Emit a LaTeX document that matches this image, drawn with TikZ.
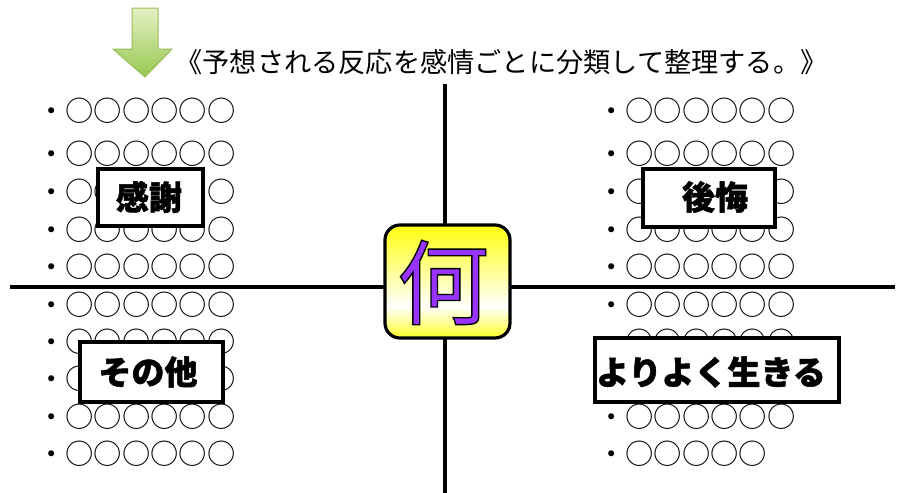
\documentclass[tikz,border=0pt]{standalone}
\usepackage{fontspec}
\newfontfamily\jp{Noto Sans CJK JP}
\newfontfamily\jpheavy{Noto Sans CJK JP}[BoldFeatures={FakeBold=1.5}]
\definecolor{nanipurple}{RGB}{153,51,255}
\definecolor{arrowtop}{RGB}{228,240,196}
\definecolor{arrowbot}{RGB}{150,200,80}
\definecolor{arrowedge}{RGB}{155,187,89}
\pgfdeclareverticalshading{yelwhite}{100bp}{color(0bp)=(yellow!85);color(25bp)=(yellow!85);color(39bp)=(white);color(75bp)=(yellow!95);color(100bp)=(yellow!95)}
\newcommand\outlinetext[1]{\special{pdf:literal direct 2 Tr 1.4 w 0 0 0 RG}#1\special{pdf:literal direct 0 Tr}}
\begin{document}
\begin{tikzpicture}[x=1pt,y=-1pt,
  axisline/.style={line width=3.5pt,black},
  rowtext/.style={anchor=west,inner sep=0pt,font=\jp\fontsize{28.3}{30}\selectfont},
  labelbox/.style={draw=black,line width=3.2pt,fill=white,inner sep=0pt},
  labeltext/.style={inner sep=0pt,font=\jpheavy\bfseries\fontsize{33}{36}\selectfont},
  titletext/.style={inner sep=0pt,font=\jp\fontsize{27.2}{30}\selectfont},
]
\useasboundingbox (0,0) rectangle (903,493);
\fill[white] (0,0) rectangle (903,493);

% axes
\coordinate (vtop) at (445,84);
\coordinate (vbot) at (445,493);
\coordinate (hleft) at (10,287);
\coordinate (hright) at (895,287);
\draw[axisline] (vtop) -- (vbot);
\draw[axisline] (hleft) -- (hright);

% left rows
\foreach \yy [count=\i] in {111,154,192,230,267,305,342,379,417,454}
  \node[rowtext] (L\i) at (37,\yy) {・○○○○○○};
% right rows
\foreach \yy [count=\i] in {111,154,192,230,267,305,342,379,417}
  \node[rowtext] (R\i) at (597,\yy) {・○○○○○○};
\node[rowtext] (R10) at (597,454) {・○○○○○};

% label boxes
\node[labelbox,minimum width=105pt,minimum height=57pt] (kanshabox) at (150.5,197.5) {};
\node[labeltext] (kansha) at (149,197) {感謝};
\node[labelbox,minimum width=132pt,minimum height=58pt] (koukaibox) at (709,198) {};
\node[labeltext] (koukai) at (715,197) {後悔};
\node[labelbox,minimum width=143pt,minimum height=60pt] (sonotabox) at (151.5,372) {};
\node[labeltext] (sonota) at (148,372) {その他};
\node[labelbox,minimum width=244pt,minimum height=64pt] (yoribox) at (717,370) {};
\node[labeltext] (yori) at (711,372) {よりよく生きる};

% center box
\path[draw=black,line width=3.2pt,rounded corners=15pt,shading=yelwhite]
  (385,225) rectangle (510,338);
\node[inner sep=0pt,text=nanipurple,font=\jp\fontsize{92}{96}\selectfont] (nani) at (443,282.5) {\outlinetext{何}};

% green arrow
\path[draw=arrowedge,line width=1pt,top color=arrowtop,bottom color=arrowbot]
  (132,8) -- (158,8) -- (158,49) -- (172,49) -- (145,77) -- (113,49) -- (132,49) -- cycle;

% title
\node[titletext] (title) at (501.5,62) {《予想される反応を感情ごとに分類して整理する。》};
\end{tikzpicture}
\end{document}
